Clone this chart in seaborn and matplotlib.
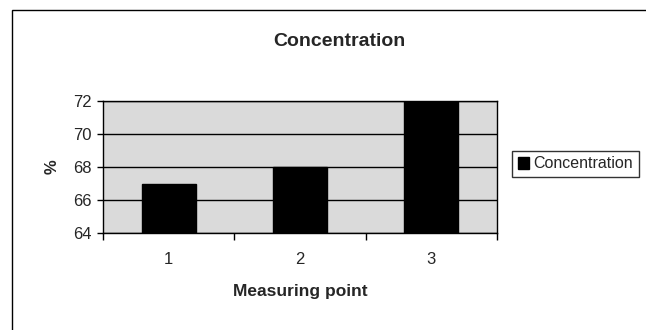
import matplotlib
matplotlib.use("Agg")
import matplotlib.pyplot as plt
import seaborn as sns
import pandas as pd
from matplotlib.patches import Rectangle

categories = ["1", "2", "3"]
values = [67, 68, 72]
yticks = [64, 66, 68, 70, 72]

sns.set_style("white")
plt.rcParams['font.family'] = ['Liberation Sans', 'DejaVu Sans']

fig = plt.figure(figsize=(6.46, 3.30), dpi=100)
W, H = 646, 330
ax = fig.add_axes([103 / W, 1 - 233 / H, (497 - 103) / W, (233 - 101) / H])

df = pd.DataFrame({"point": categories, "value": values})
sns.barplot(data=df, x="point", y="value", color="black", width=0.41, ax=ax,
            label="Concentration", zorder=3, edgecolor="black")

ax.set_facecolor("#dadada")
ax.set_ylim(64, 72)
ax.set_yticks(yticks)
ax.set_xlim(-0.5, 2.5)
ax.grid(axis="y", color="black", linewidth=1, zorder=1)
ax.set_axisbelow(True)
for s in ax.spines.values():
    s.set_color("black")
    s.set_linewidth(1)

ax.set_xticks([-0.5, 0.5, 1.5, 2.5], minor=False)
ax.set_xticklabels([])
ax.set_xticks([0, 1, 2], minor=True)
ax.set_xticklabels(categories, minor=True, fontsize=12)
ax.tick_params(axis="x", which="major", direction="out", length=5, color="black", width=1, bottom=True)
ax.tick_params(axis="x", which="minor", length=0, pad=14)
ax.tick_params(axis="y", direction="out", length=4, color="black", width=1, left=True, labelsize=12, pad=4)

ax.set_xlabel("Measuring point", fontsize=12.5, fontweight="bold", labelpad=12)
ax.set_ylabel("%", fontsize=12, fontweight="bold", labelpad=10)
fig.text(339 / W, 1 - 42 / H, "Concentration", fontsize=14, fontweight="bold",
         ha="center", va="center")

leg = ax.legend(loc="center left", bbox_to_anchor=(512 / W, 1 - 164 / H),
                bbox_transform=fig.transFigure, frameon=True, fancybox=False,
                fontsize=11.5, handlelength=0.7, handleheight=0.7, handletextpad=0.3,
                borderpad=0.35, borderaxespad=0)
leg.get_frame().set_edgecolor("black")
leg.get_frame().set_linewidth(1)

fig.patches.append(Rectangle((12 / W, -0.1), 1.2, 1 - 10 / H + 0.1, transform=fig.transFigure,
                             fill=False, edgecolor="black", linewidth=1))

fig.savefig("out.png", dpi=100)
